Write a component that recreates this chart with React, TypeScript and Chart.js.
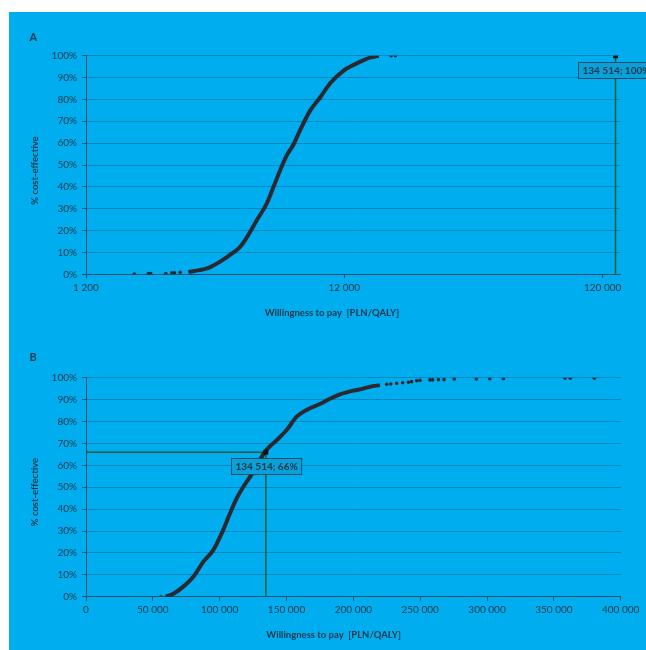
import React, { useEffect, useRef } from "react";
import { Chart, registerables } from "chart.js";
Chart.register(...registerables);

// ---------- data ----------
const threshold = 134514;
const thresholdPctA = 100;
const thresholdPctB = 66;

const aXTicks = [1200, 12000, 120000];
const aCurveWtp = [2990, 3300, 3524, 3629, 3968, 4467, 4745, 5040, 5505, 6018, 6384, 6778, 7198, 7636, 7981, 8859, 9686, 10594, 11929, 13045, 14260, 15200, 16300];
const aCurvePct = [1.0, 1.9, 2.7, 3.3, 5.8, 10, 12.6, 17, 24.8, 32.5, 40, 47.7, 54.6, 59.5, 64.5, 75, 81, 87.5, 93.2, 95.8, 98, 99.2, 100];
const aDotsWtp = [1847, 2093, 2137, 2443, 2579, 2639, 2777, 18200, 18910];
const aDotsPct = [0.1, 0.3, 0.3, 0.4, 0.7, 0.7, 0.9, 100, 100];

const bCurveWtp = [59600, 65000, 72800, 80300, 87800, 95200, 101500, 107700, 112700, 117700, 125200, 133900, 142700, 150100, 157600, 165100, 175000, 182500, 190000, 200000, 207400, 212500, 219900];
const bCurvePct = [0, 1.2, 4.6, 9.1, 16, 21.3, 28.9, 38, 44.9, 50.2, 57, 66.2, 71.5, 76.1, 82.2, 85.3, 88, 90.4, 92.4, 94.1, 95, 95.9, 96.6];
const bDotsWtp = [56100, 225000, 228000, 232400, 236900, 241200, 243600, 247400, 249900, 257300, 259300, 263600, 267800, 275500, 292000, 302000, 312200, 358300, 362300, 380300];
const bDotsPct = [0, 97, 97.1, 97.4, 97.7, 97.9, 98.2, 98.6, 98.8, 99.0, 99.0, 99.1, 99.1, 99.4, 99.4, 99.5, 99.5, 99.8, 99.8, 99.8];

const xTitle = "Willingness to pay  [PLN/QALY]";
const yTitle = "% cost-effective";

// ---------- styles ----------
const BG = "#00AEEF";
const TEXT = "#1a364a";
const GRID = "rgba(0,70,110,0.38)";
const AXIS = "#1f4f6b";
const CURVE = "#2c2832";
const GREEN = "#1d5a33";
const FONT = "Lato, 'Open Sans', sans-serif";

const fmt = (v: number) => String(Math.round(v)).replace(/\B(?=(\d{3})+(?!\d))/g, " ");
const pts = (xs: number[], ys: number[]) => xs.map((x, i) => ({ x, y: ys[i] }));

const annotPlugin = {
  id: "annot",
  afterDatasetsDraw(chart: any, _args: any, opts: any) {
    const ctx = chart.ctx;
    const px = chart.scales.x.getPixelForValue(opts.x);
    const py = chart.scales.y.getPixelForValue(opts.y);
    ctx.save();
    ctx.font = `bold 10px ${FONT}`;
    const w = ctx.measureText(opts.text).width + 8;
    const h = 16;
    const bx = Math.round(px - w / 2) + 0.5;
    const by = Math.round(py + 6) + 0.5;
    ctx.fillStyle = "#0aa0d8";
    ctx.fillRect(bx, by, w, h);
    ctx.strokeStyle = "#1d4a66";
    ctx.lineWidth = 1;
    ctx.strokeRect(bx, by, w, h);
    ctx.fillStyle = TEXT;
    ctx.textAlign = "center";
    ctx.textBaseline = "middle";
    ctx.fillText(opts.text, bx + w / 2, by + h / 2 + 0.5);
    // panel letter
    ctx.textAlign = "left";
    ctx.font = `bold 11px ${FONT}`;
    ctx.fillText(opts.letter, opts.lx, opts.ly);
    // axis titles
    ctx.font = `bold 9.5px ${FONT}`;
    ctx.textAlign = "center";
    ctx.fillText(xTitle, opts.xtx, opts.xty);
    ctx.translate(opts.ytx, opts.yty);
    ctx.rotate(-Math.PI / 2);
    ctx.fillText(yTitle, 0, 0);
    ctx.restore();
  },
};

function makeOptions(cfg: {
  xType: "logarithmic" | "linear";
  xMin: number;
  xMax: number;
  xTicks?: number[];
  step?: number;
  pad: { left: number; top: number; right: number; bottom: number };
  xHeight: number;
  annot: any;
}) {
  return {
    responsive: false,
    animation: false as const,
    layout: { padding: cfg.pad },
    plugins: {
      legend: { display: false },
      tooltip: { enabled: false },
      annot: cfg.annot,
    },
    scales: {
      x: {
        type: cfg.xType,
        min: cfg.xMin,
        max: cfg.xMax,
        afterBuildTicks: cfg.xTicks
          ? (s: any) => {
              s.ticks = cfg.xTicks!.map((v) => ({ value: v }));
            }
          : undefined,
        afterFit: (s: any) => {
          s.height = cfg.xHeight;
        },
        ticks: {
          stepSize: cfg.step,
          autoSkip: false,
          maxRotation: 0,
          padding: 3,
          color: TEXT,
          font: { family: FONT, size: 10 },
          callback: (v: any) => fmt(Number(v)),
        },
        grid: { drawOnChartArea: false, color: AXIS, tickLength: 4 },
        border: { color: AXIS, width: 1 },
      },
      y: {
        min: 0,
        max: 100,
        afterFit: (s: any) => {
          s.width = 57;
        },
        ticks: {
          stepSize: 10,
          padding: 5,
          color: TEXT,
          font: { family: FONT, size: 10 },
          callback: (v: any) => `${v}%`,
        },
        grid: { color: GRID, tickColor: AXIS, tickLength: 4, lineWidth: 1 },
        border: { color: AXIS, width: 1 },
      },
    },
  };
}

function curveSets(cw: number[], cp: number[], dw: number[], dp: number[], green: { x: number; y: number }[], marker: { x: number; y: number }[]) {
  return [
    {
      data: pts(cw, cp),
      showLine: true,
      borderColor: CURVE,
      borderWidth: 4,
      pointRadius: 0,
      cubicInterpolationMode: "monotone",
      order: 1,
    },
    {
      data: pts(dw, dp),
      showLine: false,
      pointRadius: 1.8,
      pointBackgroundColor: CURVE,
      pointBorderWidth: 0,
      order: 1,
    },
    {
      data: marker,
      showLine: false,
      pointStyle: "rect",
      pointRadius: 3.5,
      pointBackgroundColor: "#111",
      pointBorderWidth: 0,
      order: 0,
    },
    {
      data: green,
      showLine: true,
      borderColor: GREEN,
      borderWidth: 1.5,
      pointRadius: 0,
      order: 2,
    },
  ];
}

function ChartA() {
  const ref = useRef<HTMLCanvasElement>(null);
  useEffect(() => {
    const chart = new Chart(ref.current!, {
      type: "scatter",
      data: {
        datasets: curveSets(
          aCurveWtp,
          aCurvePct,
          aDotsWtp,
          aDotsPct,
          [
            { x: threshold, y: 0 },
            { x: threshold, y: thresholdPctA },
          ],
          [{ x: threshold, y: thresholdPctA }]
        ) as any,
      },
      options: makeOptions({
        xType: "logarithmic",
        xMin: 1200,
        xMax: 140000,
        xTicks: aXTicks,
        pad: { left: 20, top: 43.7, right: 26, bottom: 11 },
        xHeight: 44.7,
        annot: {
          x: threshold, y: thresholdPctA, text: `${fmt(threshold)}; ${thresholdPctA}%`,
          letter: "A", lx: 20.5, ly: 25,
          xtx: 323, xty: 301, ytx: 26, yty: 158.5,
        },
      }) as any,
      plugins: [annotPlugin],
    });
    return () => chart.destroy();
  }, []);
  return <canvas ref={ref} width={637} height={318} style={{ position: "absolute", left: 0, top: 0, width: 637, height: 318 }} />;
}

function ChartB() {
  const ref = useRef<HTMLCanvasElement>(null);
  useEffect(() => {
    const chart = new Chart(ref.current!, {
      type: "scatter",
      data: {
        datasets: curveSets(
          bCurveWtp,
          bCurvePct,
          bDotsWtp,
          bDotsPct,
          [
            { x: 0, y: thresholdPctB },
            { x: threshold, y: thresholdPctB },
            { x: threshold, y: 0 },
          ],
          [{ x: threshold, y: thresholdPctB }]
        ) as any,
      },
      options: makeOptions({
        xType: "linear",
        xMin: 0,
        xMax: 400000,
        step: 50000,
        pad: { left: 20, top: 47.7, right: 25.3, bottom: 9 },
        xHeight: 44.3,
        annot: {
          x: threshold, y: thresholdPctB, text: `${fmt(threshold)}; ${thresholdPctB}%`,
          letter: "B", lx: 20.5, ly: 27,
          xtx: 324.7, xty: 305, ytx: 26, yty: 162,
        },
      }) as any,
      plugins: [annotPlugin],
    });
    return () => chart.destroy();
  }, []);
  return <canvas ref={ref} width={637} height={320} style={{ position: "absolute", left: 0, top: 318, width: 637, height: 320 }} />;
}

export default function App() {
  return (
    <div style={{ position: "absolute", left: 9, top: 12, width: 637, height: 638, background: BG, overflow: "hidden" }}>
      <ChartA />
      <ChartB />
    </div>
  );
}
